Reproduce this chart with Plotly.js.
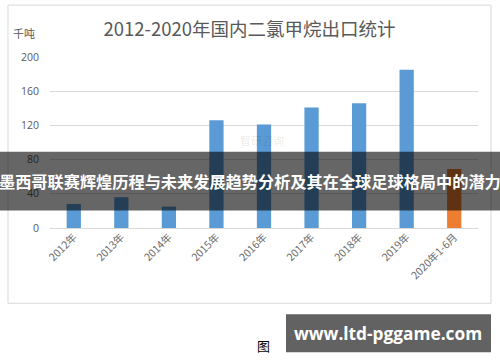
<!DOCTYPE html>
<html>
<head>
<meta charset="utf-8">
<script src="https://cdn.plot.ly/plotly-3.0.1.min.js"></script>
<style>
html,body{margin:0;padding:0;background:#fff;}
#chart{width:500px;height:362px;}
</style>
</head>
<body>
<div id="chart"></div>
<script>
// ---- data ----
const yearCategories = ["2012年","2013年","2014年","2015年","2016年","2017年","2018年","2019年"];
const yearValues = [28, 36, 25, 126, 121, 141, 146, 185];
const partialCategories = ["2020年1-6月"];
const partialValues = [69];
const allCategories = yearCategories.concat(partialCategories);
const yTickValues = [0, 40, 80, 120, 160, 200];

const chartTitle = "2012-2020年国内二氯甲烷出口统计";
const unitLabel = "千吨";
const bannerText = "墨西哥联赛辉煌历程与未来发展趋势分析及其在全球足球格局中的潜力";
const siteText = "www.ltd-pggame.com";
const figLabel = "图";

// ---- layout geometry (pixels) ----
const W = 500, H = 362;
const L = 50, R = 22, T = 57, B = 133.5;
const pw = W - L - R, ph = H - T - B;
const px = x => (x - L) / pw;          // pixel x -> paper x
const py = y => (H - B - y) / ph;      // pixel y -> paper y

const cjk = '"Noto Sans CJK SC", "Noto Sans", sans-serif';
const gray = '#595959';

const traces = [
  {type:'bar', x: yearCategories, y: yearValues, width: 0.3,
   marker:{color:'#5b9bd5'}, hoverinfo:'x+y'},
  {type:'bar', x: partialCategories, y: partialValues, width: 0.3,
   marker:{color:'#ed7d31'}, hoverinfo:'x+y'}
];

const layout = {
  width: W, height: H,
  margin:{l:L, r:R, t:T, b:B, pad:0},
  paper_bgcolor:'#ffffff', plot_bgcolor:'#ffffff',
  showlegend:false,
  barmode:'overlay',
  font:{family:cjk, color:gray},
  title:{text: chartTitle, x: px(249.5), xref:'paper', xanchor:'center',
         y: 1 - 30/H, yanchor:'middle', font:{size:18.5, color:gray, family:cjk}},
  xaxis:{type:'category', categoryorder:'array', categoryarray: allCategories,
         tickangle:-45, tickfont:{size:10.5, color:'#6a6a6a', family:cjk},
         showgrid:false, zeroline:false, showline:false, ticks:'',
         range:[-0.5, allCategories.length - 0.5]},
  yaxis:{range:[0,200], tickvals: yTickValues, ticktext: yTickValues.map(String),
         tickfont:{size:10.5, color:gray, family:'"Open Sans", sans-serif'},
         showgrid:true, gridcolor:'#d9d9d9', gridwidth:1,
         zeroline:true, zerolinecolor:'#d9d9d9', zerolinewidth:1,
         showline:false, ticks:'', ticklabelstandoff:10},
  shapes:[
    {type:'rect', xref:'paper', yref:'paper', x0:px(8), x1:px(491), y0:py(5), y1:py(304),
     line:{color:'#d9d9d9', width:1}, fillcolor:'rgba(0,0,0,0)', layer:'below'},
    {type:'rect', xref:'paper', yref:'paper', x0:px(-5), x1:px(505), y0:py(152), y1:py(211),
     line:{width:0}, fillcolor:'rgba(0,0,0,0.6)', layer:'above'},
    {type:'rect', xref:'paper', yref:'paper', x0:px(286), x1:px(491), y0:py(315), y1:py(353),
     line:{width:0}, fillcolor:'#626262', layer:'above'}
  ],
  annotations:[
    {text: unitLabel, xref:'paper', yref:'paper', x:px(24), y:py(33),
     xanchor:'center', yanchor:'middle', showarrow:false,
     font:{size:11, color:gray, family:cjk}},
    {text: '智研咨询', xref:'paper', yref:'paper', x:px(262), y:py(140),
     xanchor:'center', yanchor:'middle', showarrow:false,
     font:{size:11, color:'rgba(0,0,0,0.1)', family:cjk}},
    {text: '<b>' + bannerText + '</b>', xref:'paper', yref:'paper', x:px(250), y:py(181),
     xanchor:'center', yanchor:'middle', showarrow:false,
     font:{size:16.2, color:'#ffffff', family:cjk}},
    {text: '<b>' + siteText + '</b>', xref:'paper', yref:'paper', x:px(388), y:py(334),
     xanchor:'center', yanchor:'middle', showarrow:false,
     font:{size:17.3, color:'#ffffff', family:'"Open Sans", sans-serif'}},
    {text: figLabel, xref:'paper', yref:'paper', x:px(263), y:py(346),
     xanchor:'center', yanchor:'middle', showarrow:false,
     font:{size:13, color:'#000000', family:cjk}}
  ]
};

Plotly.newPlot('chart', traces, layout, {displayModeBar:false, staticPlot:true});
</script>
</body>
</html>
